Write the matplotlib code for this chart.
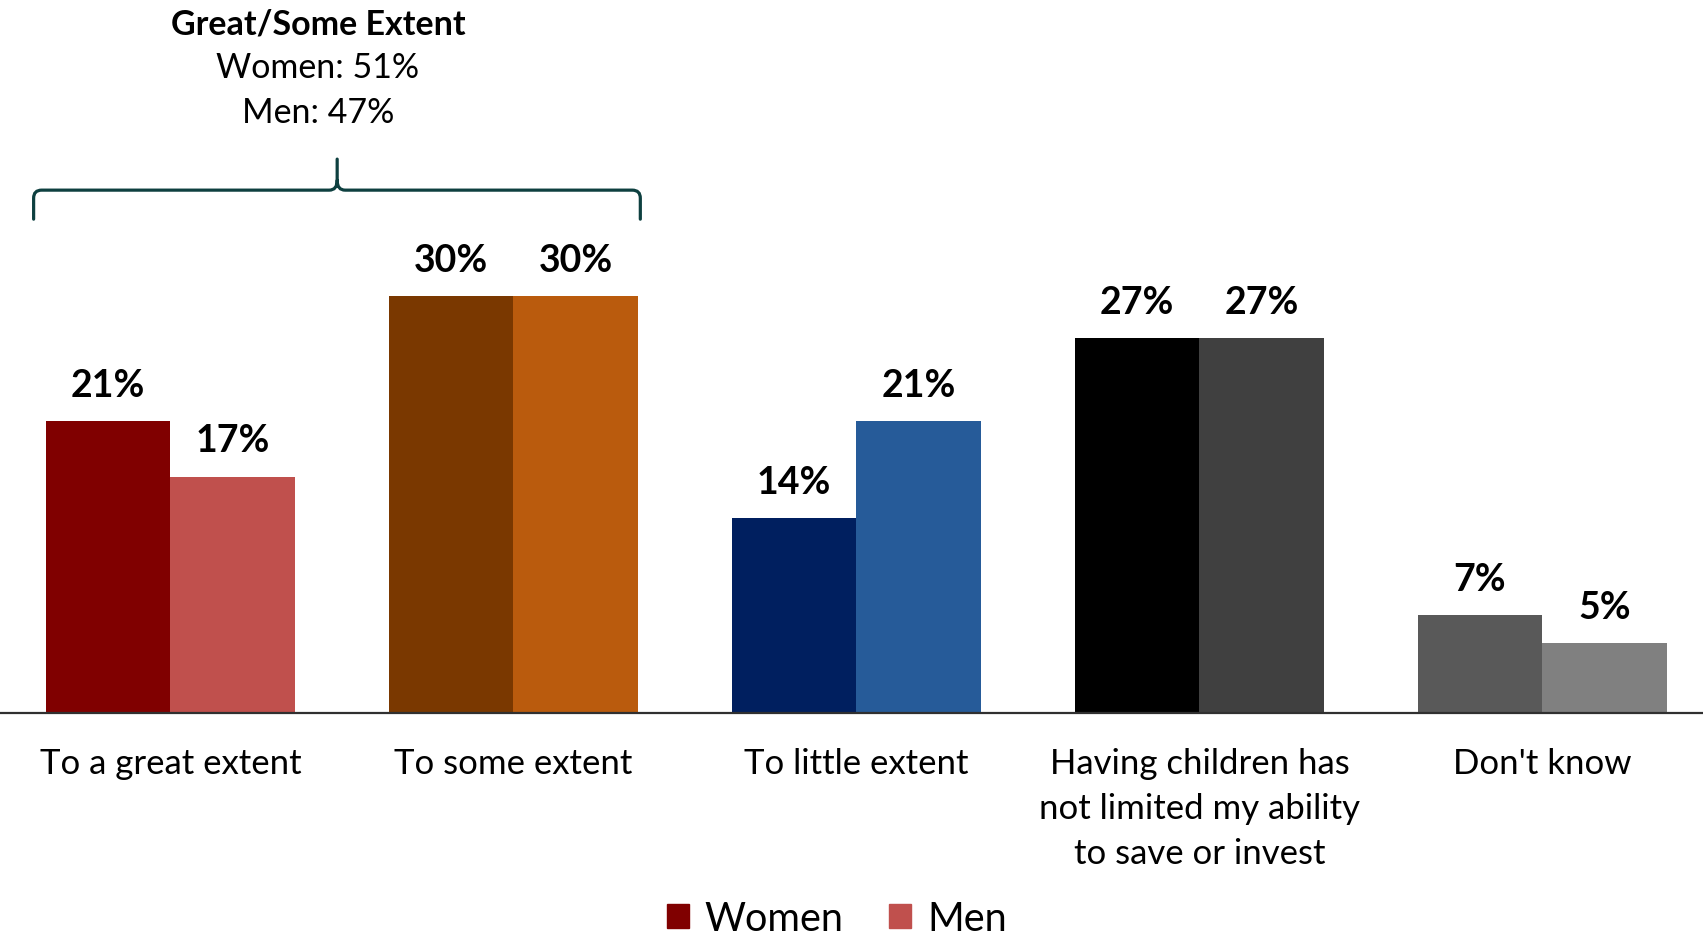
import numpy as np
import matplotlib.pyplot as plt
import matplotlib.transforms as mtransforms
from matplotlib.path import Path
from matplotlib.patches import PathPatch, Patch

plt.rcParams['font.family'] = ['Lato', 'DejaVu Sans']

categorias = ['To a great extent', 'To some extent', 'To little extent',
              'Having children has\nnot limited my ability\nto save or invest',
              "Don't know"]
mujeres = [21, 30, 14, 27, 7]
hombres = [17, 30, 21, 27, 5]

# cada grupo tiene su propio par de colores
colores_mujeres = ['#800000', '#7A3800', '#001F5F', '#000000', '#595959']
colores_hombres = ['#C0504D', '#BA5B0D', '#265B99', '#404040', '#808080']

resumen_titulo = 'Great/Some Extent'
resumen_lineas = ['Women: 51%', 'Men: 47%']

fig = plt.figure(figsize=(17.03, 9.37), dpi=100)
ax = fig.add_axes([0, 0.2385, 1, 0.7615])

x = np.arange(len(categorias))
w = 0.364

b1 = ax.bar(x - w / 2, mujeres, w, color=colores_mujeres)
b2 = ax.bar(x + w / 2, hombres, w, color=colores_hombres)

for barras, vals in [(b1, mujeres), (b2, hombres)]:
    for b, v in zip(barras, vals):
        ax.annotate(f'{v}%', (b.get_x() + b.get_width() / 2, v),
                    xytext=(0, 26), textcoords='offset points',
                    ha='center', va='center', fontsize=27, fontweight='bold')

ax.set_xlim(-0.497, 4.468)
ax.set_ylim(0, 51.4)
ax.set_xticks(x)
ax.set_xticklabels(categorias, fontsize=25, linespacing=1.5)
ax.tick_params(axis='x', length=0, pad=25)
ax.set_yticks([])
for s in ['top', 'left', 'right']:
    ax.spines[s].set_visible(False)
ax.spines['bottom'].set_color('#303030')
ax.spines['bottom'].set_linewidth(1.6)

# llave sobre las dos primeras categorias
trans = mtransforms.blended_transform_factory(ax.transData, ax.transAxes)
px = 1 / 343.0
py = 1 / 713.0
izq = x[0] - w - 12 * px
der = x[1] + w + 2 * px
punta = 0.486
y_h = (713 - 191) * py
y_fin = (713 - 220) * py
y_punta = (713 - 160) * py
rx, ry = 8 * px, 8 * py
verts = [(izq, y_fin), (izq, y_h - ry), (izq, y_h), (izq + rx, y_h),
         (punta - rx, y_h), (punta, y_h), (punta, y_h + ry * 1.2),
         (punta, y_punta),
         (punta, y_h + ry * 1.2), (punta, y_h), (punta + rx, y_h),
         (der - rx, y_h), (der, y_h), (der, y_h - ry), (der, y_fin)]
codes = [Path.MOVETO, Path.LINETO, Path.CURVE3, Path.CURVE3,
         Path.LINETO, Path.CURVE3, Path.CURVE3,
         Path.LINETO,
         Path.MOVETO, Path.CURVE3, Path.CURVE3,
         Path.LINETO, Path.CURVE3, Path.CURVE3, Path.LINETO]
ax.add_patch(PathPatch(Path(verts, codes), fill=False, edgecolor='#0E4040',
                       linewidth=2.3, transform=trans, clip_on=False,
                       capstyle='round'))

tx = 0.43
ax.text(tx, (713 - 24) * py, resumen_titulo, transform=trans, ha='center',
        va='center', fontsize=24.5, fontweight='bold')
for i, linea in enumerate(resumen_lineas):
    ax.text(tx, (713 - 68 - 45 * i) * py, linea, transform=trans,
            ha='center', va='center', fontsize=24.5)

handles = [Patch(color=colores_mujeres[0], label='Women'),
           Patch(color=colores_hombres[0], label='Men')]
fig.legend(handles=handles, loc='center', bbox_to_anchor=(0.4915, 0.019),
           ncol=2, frameon=False, fontsize=28.5, handlelength=0.55,
           handleheight=0.55, handletextpad=0.4, columnspacing=1.15)

fig.savefig('out.png', dpi=100)
